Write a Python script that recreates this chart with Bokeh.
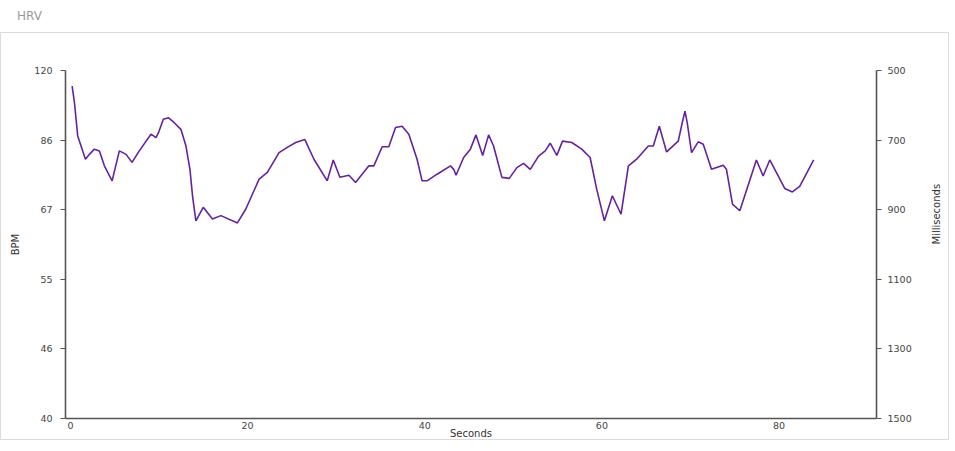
import math
from bokeh.plotting import figure
from bokeh.models import LinearAxis, FixedTicker, Range1d, Div
from bokeh.layouts import column
from bokeh.embed import file_html
from bokeh.resources import INLINE

# ---- data ----
seconds = [0.19, 0.45, 0.82, 1.69, 2.14, 2.70, 3.27, 3.83, 4.70, 5.52, 6.28, 6.95, 7.77,
           9.09, 9.66, 9.95, 10.48, 11.08, 11.72, 12.47, 13.04, 13.49, 13.78, 14.16, 14.99,
           16.03, 16.98, 18.85, 19.80, 21.30, 22.23, 23.55, 24.48, 25.43, 26.45, 27.49,
           28.99, 29.67, 30.42, 31.44, 32.19, 33.69, 34.25, 35.19, 35.94, 36.70, 37.44,
           38.20, 39.13, 39.70, 40.26, 41.39, 42.90, 43.27, 43.53, 44.39, 45.15, 45.78,
           46.54, 47.21, 47.77, 48.71, 49.54, 50.40, 51.15, 51.91, 52.85, 53.60, 54.16,
           54.91, 55.55, 56.60, 57.72, 58.67, 59.41, 60.28, 61.18, 62.16, 62.99, 63.92,
           65.24, 65.80, 66.48, 67.30, 68.62, 69.11, 69.38, 69.63, 70.12, 70.87, 71.44,
           72.37, 73.69, 74.06, 74.74, 75.57, 77.44, 78.20, 78.95, 80.64, 81.50, 82.33, 83.91]
rr_ms = [545, 592, 688, 755, 741, 726, 731, 774, 817, 731, 741, 764, 731,
         683, 693, 678, 640, 636, 650, 669, 717, 784, 860, 932, 893,
         927, 917, 938, 898, 812, 793, 736, 721, 707, 698, 755,
         817, 757, 807, 801, 822, 774, 774, 719, 719, 664, 660,
         683, 755, 817, 817, 798, 774, 784, 801, 750, 726, 685,
         744, 685, 717, 807, 810, 779, 767, 784, 746, 731, 709,
         744, 703, 707, 726, 750, 841, 932, 860, 913, 774, 755,
         717, 717, 660, 734, 703, 645, 617, 650, 736, 705, 712,
         784, 772, 784, 884, 903, 757, 803, 757, 839, 849, 833, 757]

x_ticks = [0, 20, 40, 60, 80]
ms_ticks = [500, 700, 900, 1100, 1300, 1500]
bpm_labels = ["120", "86", "67", "55", "46", "40"]

FONT = "DejaVu Sans"
TICK_COLOR = "#444444"
AXIS_COLOR = "#555555"

p = figure(width=949, height=408, output_backend="svg", toolbar_location=None,
           x_range=Range1d(-0.56, 91.0), y_range=Range1d(1500, 500),
           min_border_left=64, min_border_right=72, min_border_top=37,
           min_border_bottom=22)
p.styles = {"border": "1px solid #dcdcdc"}
p.outline_line_color = None
p.xgrid.visible = False
p.ygrid.visible = False
p.background_fill_color = "white"
p.border_fill_color = "white"

p.line(seconds, rr_ms, line_color="#65229c", line_width=1.6)

def style_axis(ax):
    ax.axis_line_color = AXIS_COLOR
    ax.axis_line_width = 1.6
    ax.major_tick_line_color = AXIS_COLOR
    ax.major_tick_in = 0
    ax.major_tick_out = 5
    ax.minor_tick_line_color = None
    ax.major_label_text_font = FONT
    ax.major_label_text_font_size = "9.5px"
    ax.major_label_text_color = TICK_COLOR
    ax.axis_label_text_font = FONT
    ax.axis_label_text_font_size = "10px"
    ax.axis_label_text_font_style = "normal"
    ax.axis_label_text_color = "#333333"

# bottom axis
xa = p.xaxis[0]
xa.ticker = FixedTicker(ticks=x_ticks)
xa.axis_label = "Seconds"
style_axis(xa)
xa.major_tick_out = 0
xa.major_label_standoff = 3
xa.axis_label_standoff = -4

# left axis (BPM labels at the ms positions)
ya = p.yaxis[0]
ya.ticker = FixedTicker(ticks=ms_ticks)
ya.major_label_overrides = {t: lab for t, lab in zip(ms_ticks, bpm_labels)}
ya.axis_label = "BPM"
style_axis(ya)
ya.major_label_standoff = 8
ya.axis_label_standoff = 10

# right axis (milliseconds)
ra = LinearAxis(ticker=FixedTicker(ticks=ms_ticks), axis_label="Milliseconds")
style_axis(ra)
ra.major_label_standoff = 6
ra.axis_label_standoff = 22
ra.axis_label_orientation = math.pi / 2
p.add_layout(ra, "right")

title = Div(text="HRV", width=120, height=22,
            styles={"color": "#9a9a9a", "font-family": FONT, "font-size": "12px",
                    "padding-left": "12px", "padding-top": "3px"})

layout = column(title, p, spacing=0)

open("out.html", "w").write(file_html(layout, INLINE))
